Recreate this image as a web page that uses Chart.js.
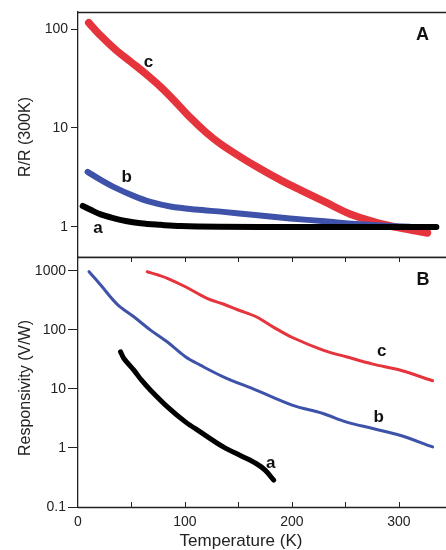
<!DOCTYPE html>
<html><head><meta charset="utf-8">
<script src="https://cdn.jsdelivr.net/npm/chart.js@4.4.1/dist/chart.umd.min.js"></script>
<style>
html,body{margin:0;padding:0;background:#fff;width:446px;height:550px;overflow:hidden;}
#wa{position:absolute;left:0;top:0;width:446px;height:258px;}
#wb{position:absolute;left:0;top:250px;width:446px;height:300px;}
</style></head><body>
<div id="wa"><canvas id="ca" width="446" height="258"></canvas></div>
<div id="wb"><canvas id="cb" width="446" height="300"></canvas></div>
<script>
// ---- tick labels ----
const xTicks = [0, 100, 200, 300];
const xMinorTicks = [50, 100, 150, 200, 250, 300];
const yTicksA = [1, 10, 100];
const yTicksB = [0.1, 1, 10, 100, 1000];

// ---- Panel A: R/R(300K) vs temperature ----
const tempA_a = [4.4, 11.8, 21.2, 30.5, 44.5, 58.5, 77.1, 95.8, 133, 207.6, 335];
const ratioA_a = [1.63, 1.49, 1.34, 1.25, 1.15, 1.09, 1.05, 1.02, 1.005, 1.0, 1.0];
const tempA_b = [9, 21.2, 35.1, 51.9, 67.7, 86.4, 109.7, 135.8, 165.6, 198.2, 230.9, 259.8, 291.4, 310];
const ratioA_b = [3.6, 2.99, 2.48, 2.06, 1.79, 1.61, 1.5, 1.42, 1.32, 1.22, 1.14, 1.07, 1.02, 1.005];
const tempA_c = [10, 21.2, 35.1, 49.1, 63.1, 77.1, 91.1, 105.1, 119, 133, 151.7, 170.3, 189, 207.6, 230.9, 254.2, 277.5, 300.8, 326.7];
const ratioA_c = [116, 85.7, 61.8, 46.8, 35.4, 26.1, 18.4, 12.7, 9.16, 6.92, 5.11, 3.87, 2.99, 2.37, 1.79, 1.35, 1.12, 0.977, 0.87];

// ---- Panel B: responsivity vs temperature ----
const tempB_a = [39.8, 42.9, 52.2, 59.4, 67.8, 83.6, 100.4, 114.3, 135.8, 151.3, 166.5, 174.9, 183];
const respB_a = [42.4, 32.7, 20.7, 14, 9.5, 4.96, 2.76, 1.87, 1.04, 0.75, 0.545, 0.42, 0.284];
const tempB_b = [10.3, 21.2, 36.7, 52.2, 67.8, 83.3, 100.4, 114.3, 135.8, 166.5, 200.1, 229, 250.4, 275.6, 300.8, 331.5];
const respB_b = [962, 572, 270, 166, 98.8, 62.6, 34.9, 25.2, 16, 9.5, 5.3, 3.83, 2.76, 2.13, 1.64, 1.04];
const tempB_c = [64.7, 75, 83.6, 100.4, 120.6, 135.8, 149.8, 166.5, 183, 200.4, 229, 250.7, 275.6, 300.8, 331.5];
const respB_c = [962, 845, 743, 535, 340, 273, 216, 166, 110, 74, 45.3, 34.9, 26.2, 20.8, 13.7];

const RED = '#e5343b', BLUE = '#3d52a8', BLACK = '#000000';
const FONT = "'Liberation Sans', Arial, Helvetica, sans-serif";
Chart.defaults.font.family = FONT;

function pts(xs, ys) { return xs.map((x, i) => ({x: x, y: ys[i]})); }
function ds(xs, ys, color, w) {
  return {data: pts(xs, ys), borderColor: color, backgroundColor: color, borderWidth: w,
    pointRadius: 0, fill: false, tension: 0.35, cubicInterpolationMode: 'default',
    borderCapStyle: 'round', borderJoinStyle: 'round'};
}

function yAxis(min, max, ticks, tl, pad) {
  return {
    type: 'logarithmic', min: min, max: max,
    afterFit: s => { s.width = 78; s.paddingTop = 0; s.paddingBottom = 0; },
    afterBuildTicks: s => { s.ticks = ticks.map(v => ({value: v})); },
    ticks: {callback: v => String(v), font: {size: 14}, color: '#222', padding: pad, autoSkip: false},
    grid: {display: true, drawOnChartArea: false, drawTicks: true, tickLength: tl, color: '#222', lineWidth: 1},
    border: {display: true, color: '#222', width: 1.3}
  };
}

function labelsPlugin(items, yTitle, yTitleCenter, xTitle) {
  return {
    id: 'deco',
    afterDraw(chart) {
      const ctx = chart.ctx, xs = chart.scales.x, ys = chart.scales.y;
      ctx.save();
      ctx.fillStyle = '#111';
      ctx.textAlign = 'center';
      ctx.textBaseline = 'middle';
      items.forEach(it => {
        ctx.font = 'bold ' + it.size + 'px ' + FONT;
        ctx.fillText(it.text, xs.getPixelForValue(it.x), ys.getPixelForValue(it.y));
      });
      ctx.fillStyle = '#222';
      if (xTitle) {
        ctx.font = '17px ' + FONT;
        ctx.fillText(xTitle.text, xTitle.cx, xTitle.cy);
      }
      ctx.font = '16px ' + FONT;
      ctx.translate(26, yTitleCenter);
      ctx.rotate(-Math.PI / 2);
      ctx.fillText(yTitle, 0, 0);
      ctx.restore();
    }
  };
}

const framePluginA = {
  id: 'frameA',
  afterDraw(chart) {
    const ctx = chart.ctx, a = chart.chartArea;
    ctx.save();
    ctx.strokeStyle = '#222'; ctx.lineWidth = 1.3;
    ctx.beginPath();
    ctx.moveTo(a.left, a.top + 0.5); ctx.lineTo(chart.width, a.top + 0.5);
    ctx.moveTo(a.left, a.bottom + 0.5); ctx.lineTo(chart.width, a.bottom + 0.5);
    ctx.stroke();
    ctx.restore();
  }
};
const framePluginB = {
  id: 'frameB',
  afterDraw(chart) {
    const ctx = chart.ctx, a = chart.chartArea, xs = chart.scales.x;
    ctx.save();
    ctx.strokeStyle = '#222'; ctx.lineWidth = 1.3;
    ctx.beginPath();
    ctx.moveTo(a.left, a.top + 0.5); ctx.lineTo(chart.width, a.top + 0.5);
    ctx.moveTo(a.left, a.bottom + 0.5); ctx.lineTo(chart.width, a.bottom + 0.5);
    ctx.stroke();
    ctx.lineWidth = 1;
    ctx.beginPath();
    xMinorTicks.forEach(v => {
      const px = Math.round(xs.getPixelForValue(v)) + 0.5;
      ctx.moveTo(px, a.top); ctx.lineTo(px, a.top + 5);
      ctx.moveTo(px, a.bottom); ctx.lineTo(px, a.bottom - 5);
    });
    ctx.stroke();
    ctx.restore();
  }
};

new Chart(document.getElementById('ca'), {
  type: 'line',
  data: {datasets: [
    ds(tempA_a, ratioA_a, BLACK, 6),
    ds(tempA_b, ratioA_b, BLUE, 6),
    ds(tempA_c, ratioA_c, RED, 7.5)
  ]},
  options: {
    responsive: false, animation: false,
    layout: {padding: {top: 12, left: 0, right: 0, bottom: 1}},
    plugins: {legend: {display: false}, tooltip: {enabled: false}},
    scales: {
      x: {type: 'linear', min: 0, max: 344,
          afterFit: s => { s.height = 0; s.paddingLeft = 0; s.paddingRight = 0; },
          ticks: {display: false}, grid: {display: false, drawTicks: false}, border: {display: false}},
      y: yAxis(0.497, 148.6, yTicksA, 7, 3)
    }
  },
  plugins: [framePluginA, labelsPlugin([
    {text: 'c', x: 65.9, y: 45.7, size: 17},
    {text: 'b', x: 45.4, y: 3.21, size: 17},
    {text: 'a', x: 18.6, y: 0.98, size: 17},
    {text: 'A', x: 322, y: 87.8, size: 18}
  ], 'R/R (300K)', 137, null)]
});

new Chart(document.getElementById('cb'), {
  type: 'line',
  data: {datasets: [
    ds(tempB_a, respB_a, BLACK, 5),
    ds(tempB_b, respB_b, BLUE, 3),
    ds(tempB_c, respB_c, RED, 3)
  ]},
  options: {
    responsive: false, animation: false,
    layout: {padding: {top: 7, left: 0, right: 0, bottom: 0}},
    plugins: {legend: {display: false}, tooltip: {enabled: false}},
    scales: {
      x: {type: 'linear', min: 0, max: 344,
          afterFit: s => { s.height = 43; s.paddingLeft = 0; s.paddingRight = 0; },
          afterBuildTicks: s => { s.ticks = xTicks.map(v => ({value: v})); },
          ticks: {display: true, font: {size: 14}, color: '#222', padding: 7, maxRotation: 0, autoSkip: false},
          grid: {display: false, drawTicks: false}, border: {display: false},
          title: {display: false}},
      y: yAxis(0.1, 1706, yTicksB, 10, 2)
    }
  },
  plugins: [framePluginB, labelsPlugin([
    {text: 'c', x: 284, y: 42.4, size: 17},
    {text: 'b', x: 281, y: 3.35, size: 17},
    {text: 'a', x: 180.2, y: 0.545, size: 17},
    {text: 'B', x: 322.5, y: 695, size: 18}
  ], 'Responsivity (V/W)', 138, {text: 'Temperature (K)', cx: 241, cy: 291})]
});
</script>
</body></html>
